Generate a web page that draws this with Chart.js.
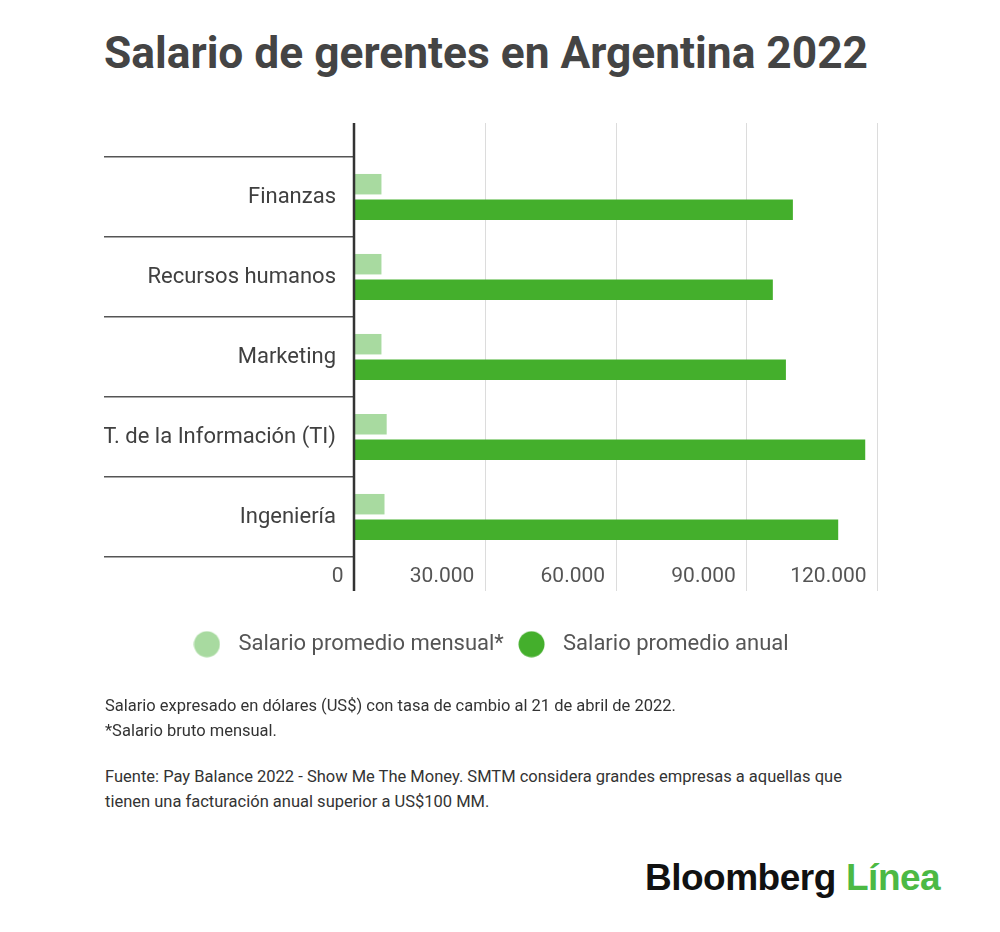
<!DOCTYPE html>
<html>
<head>
<meta charset="utf-8">
<script src="https://cdn.jsdelivr.net/npm/chart.js@4/dist/chart.umd.min.js"></script>
<style>
  html, body { margin: 0; padding: 0; background: #fff; }
  body { width: 1000px; height: 932px; position: relative; overflow: hidden; font-family: Roboto, "Noto Sans", sans-serif; }
  #wrap { position: absolute; left: 0; top: 0; width: 1000px; height: 700px; }
  .title { position: absolute; left: 104px; top: 31px; font: bold 44.3px/1 Roboto, sans-serif; color: #444; white-space: nowrap; }
  .notes { position: absolute; left: 105px; font: 16.5px/25px Roboto, sans-serif; color: #333; white-space: nowrap; }
  .logo { position: absolute; top: 859px; font: bold 37px/1 "Liberation Sans", Arial, sans-serif; white-space: nowrap; letter-spacing: -0.5px; }
</style>
</head>
<body>
<div class="title">Salario de gerentes en Argentina 2022</div>
<div id="wrap"><canvas id="c" width="1000" height="700"></canvas></div>
<div class="notes" style="top:693px">Salario expresado en dólares (US$) con tasa de cambio al 21 de abril de 2022.<br>*Salario bruto mensual.</div>
<div class="notes" style="top:764px">Fuente: Pay Balance 2022 - Show Me The Money. SMTM considera grandes empresas a aquellas que<br>tienen una facturación anual superior a US$100 MM.</div>
<div class="logo" style="left:645px;color:#111">Bloomberg</div>
<div class="logo" style="left:846px;color:#4cb944">Línea</div>
<script>
const categories = ['Finanzas', 'Recursos humanos', 'Marketing', 'T. de la Información (TI)', 'Ingeniería'];
const seriesNames = ['Salario promedio mensual*', 'Salario promedio anual'];
const mensual = [6300, 6300, 6300, 7500, 7000];
const anual = [100700, 96100, 99100, 117300, 111100];
const xTicks = [0, 30000, 60000, 90000, 120000];
const colors = ['#a8daa0', '#44af2c'];

function fmt(v) {
  return String(v).replace(/\B(?=(\d{3})+(?!\d))/g, '.');
}

function circleImg(color) {
  const c = document.createElement('canvas');
  c.width = 27; c.height = 27;
  const g = c.getContext('2d');
  g.fillStyle = color;
  g.beginPath();
  g.arc(13.5, 13.5, 13, 0, Math.PI * 2);
  g.fill();
  return c;
}
const legendImgs = colors.map(circleImg);

const extLines = {
  id: 'extLines',
  afterLayout(chart) {
    if (chart.legend) { chart.legend.left -= 3; chart.legend.right -= 3; }
  },
  beforeDatasetsDraw(chart) {
    const {ctx, chartArea} = chart;
    const x = chart.scales.x;
    const top = chartArea.top - 34, bottom = chartArea.bottom + 34;
    ctx.save();
    ctx.strokeStyle = '#dcdcdc';
    ctx.lineWidth = 1;
    xTicks.slice(1).forEach(v => {
      const px = Math.round(x.getPixelForValue(v)) + 0.5;
      ctx.beginPath();
      ctx.moveTo(px, top);
      ctx.lineTo(px, bottom);
      ctx.stroke();
    });
    ctx.restore();
  },
  afterDatasetsDraw(chart) {
    const {ctx, chartArea} = chart;
    const x = chart.scales.x;
    const px = x.getPixelForValue(0);
    ctx.save();
    ctx.strokeStyle = '#333';
    ctx.lineWidth = 2.5;
    ctx.beginPath();
    ctx.moveTo(px, chartArea.top - 34);
    ctx.lineTo(px, chartArea.bottom + 34);
    ctx.stroke();
    ctx.restore();
  }
};

new Chart(document.getElementById('c'), {
  type: 'bar',
  data: {
    labels: categories,
    datasets: [
      { label: seriesNames[0], data: mensual, backgroundColor: colors[0], categoryPercentage: 0.64, barPercentage: 0.8 },
      { label: seriesNames[1], data: anual, backgroundColor: colors[1], categoryPercentage: 0.64, barPercentage: 0.8 }
    ]
  },
  options: {
    indexAxis: 'y',
    responsive: false,
    animation: false,
    events: [],
    layout: { padding: { top: 157, left: 104, right: 123, bottom: 34.8 } },
    scales: {
      x: {
        min: 0, max: 120000,
        afterBuildTicks(scale) { scale.ticks = xTicks.map(v => ({ value: v })); },
        afterFit(scale) { scale.height = 69; },
        grid: { display: false, drawTicks: false },
        border: { display: false },
        ticks: {
          align: 'end',
          padding: 7,
          color: '#555',
          font: { family: 'Roboto', size: 21 },
          callback: v => fmt(v) + '  '
        }
      },
      y: {
        afterFit(scale) { scale.width = 250; },
        offset: true,
        grid: { display: true, offset: true, drawOnChartArea: false, drawTicks: true, tickLength: 250, color: '#555', lineWidth: 1.5 },
        border: { display: false },
        ticks: {
          padding: -232,
          color: '#404040',
          font: { family: 'Roboto', size: 22 }
        }
      }
    },
    plugins: {
      tooltip: { enabled: false },
      legend: {
        position: 'bottom',
        labels: {
          usePointStyle: true,
          pointStyleWidth: 41,
          padding: 7.2,
          color: '#555',
          font: { family: 'Roboto', size: 22 },
          generateLabels(chart) {
            const items = Chart.defaults.plugins.legend.labels.generateLabels(chart);
            items.forEach((it, i) => { it.pointStyle = legendImgs[i]; });
            return items;
          }
        }
      }
    }
  },
  plugins: [extLines]
});
</script>
</body>
</html>
